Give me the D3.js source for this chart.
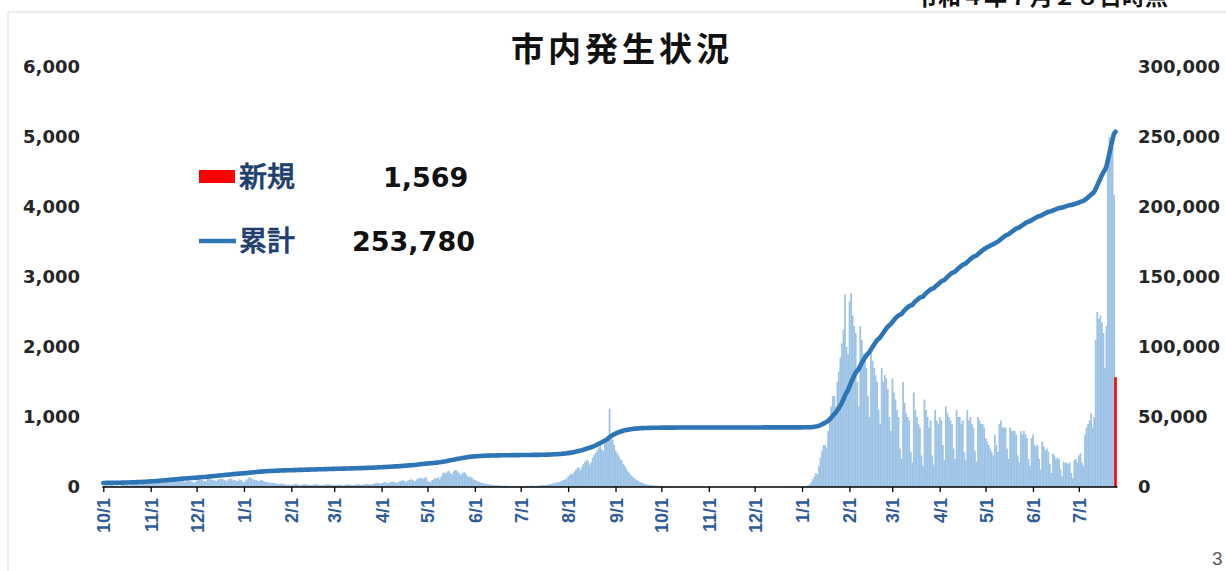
<!DOCTYPE html>
<html lang="ja">
<head>
<meta charset="utf-8">
<title>市内発生状況</title>
<script src="https://cdn.jsdelivr.net/npm/d3@7"></script>
<style>
  html, body { margin: 0; padding: 0; background: #fff; }
  svg { display: block; }
  .y-axis text { font: bold 18px "DejaVu Sans", Verdana, sans-serif; fill: #262626; }
  .x-axis text { font: bold 18px "Liberation Sans", Arial, sans-serif; fill: #2e5c99; }
  .x-axis path, .x-axis line { stroke: #000; stroke-width: 1.3; }
  .title { font: bold 33px "Noto Sans CJK JP", sans-serif; fill: #111; letter-spacing: 4px; }
  .as-of { font: bold 23px "Noto Sans CJK JP", sans-serif; fill: #111; }
  .legend-name { font: 500 28px "Noto Sans CJK JP", sans-serif; fill: #1f3f6e; stroke: #1f3f6e; stroke-width: 0.6; }
  .legend-value { font: bold 27px "DejaVu Sans", Verdana, sans-serif; fill: #111; }
  .page-no { font: 19px "Liberation Sans", Arial, sans-serif; fill: #595959; }
</style>
</head>
<body>
<svg id="chart" width="1226" height="571"></svg>
<script>
// daily new cases, one array per month, first day 2020-10-01
const startDate = new Date(2020, 9, 1);
const daily2020Oct = [12,18,20,15,10,22,25,20,18,24,15,12,30,28,26,35,30,20,25,38,40,45,48,52,35,50,62,70,75,80,70];
const daily2020Nov = [60,55,80,75,90,95,100,110,70,85,95,105,110,120,90,80,100,115,110,95,90,85,70,80,95,90,85,75,60,70];
const daily2020Dec = [90,110,120,100,95,85,80,115,120,110,105,100,90,85,110,115,120,110,100,95,90,115,120,110,95,100,90,85,110,100,80];
const daily2021Jan = [60,90,110,130,140,120,110,100,95,90,85,100,95,80,75,70,65,60,55,60,55,50,45,40,45,50,40,35,30,35,30];
const daily2021Feb = [30,35,40,45,38,30,25,35,40,42,38,30,28,25,32,38,40,35,30,28,25,30,35,38,40,36,32,30];
const daily2021Mar = [25,30,28,35,30,25,20,30,35,38,32,28,25,30,35,40,38,32,30,35,40,45,42,38,35,40,48,55,60,52,50];
const daily2021Apr = [55,60,70,65,50,60,75,80,70,65,55,70,85,90,95,80,70,85,100,110,105,95,85,110,120,130,125,115,130,140];
const daily2021May = [90,80,70,100,110,130,120,140,110,150,200,210,190,220,230,200,180,220,240,235,210,190,170,200,215,190,160,140,150,130,110];
const daily2021Jun = [100,90,80,75,60,55,50,45,40,35,38,30,28,25,22,25,20,18,15,20,18,15,12,15,14,10,12,15,10,12];
const daily2021Jul = [10,12,8,15,12,10,14,18,20,15,12,18,22,25,28,30,25,32,35,40,45,50,55,60,65,70,80,90,100,110,120];
const daily2021Aug = [150,170,190,180,220,250,270,280,240,290,330,360,390,370,320,350,420,460,490,520,560,600,540,510,640,690,660,1120,720,680,600];
const daily2021Sep = [520,480,450,400,380,330,300,260,220,200,170,150,130,110,95,85,70,60,55,45,40,35,30,28,25,22,20,18,15,12];
const daily2021Oct = [12,10,8,10,6,5,8,7,6,5,4,6,5,4,3,5,4,3,2,4,3,2,3,2,1,2,3,2,1,2,1];
const daily2021Nov = [1,2,1,0,2,1,1,3,2,1,0,1,2,1,1,2,1,0,1,2,1,1,2,3,1,1,2,1,1,2];
const daily2021Dec = [1,2,1,1,2,1,3,2,1,1,2,1,2,3,1,2,1,2,3,2,1,2,3,4,2,3,4,5,6,5,4];
const daily2022Jan = [5,8,10,15,25,40,70,110,150,200,180,300,420,520,600,600,560,800,1000,1150,1300,1300,1150,1500,1650,1850,2050,2250,2750,2000,1900];
const daily2022Feb = [2650,2770,2450,2300,2200,1500,1150,2300,2100,1900,1800,1700,1300,1000,1900,1800,1700,1600,1500,1100,900,1700,1500,1600,1550,1400,1000,800];
const daily2022Mar = [1550,1350,1250,1100,1000,550,400,1500,1200,1050,1000,950,500,350,1350,1100,1000,900,850,450,300,1250,1100,1000,850,950,450,320,1100,950,900];
const daily2022Apr = [1000,950,600,380,1150,1050,1000,950,900,550,400,1100,1000,1000,900,950,500,380,1100,950,1000,900,850,520,360,1000,950,900,900,850];
const daily2022May = [700,650,600,550,500,450,750,600,500,900,950,850,850,850,550,400,850,800,800,800,750,450,350,800,750,800,750,700,400,300,700];
const daily2022Jun = [750,600,580,600,400,250,650,580,520,550,500,330,200,480,450,400,420,400,250,150,360,340,350,330,350,200,130,380,400,350];
const daily2022Jul = [450,480,350,300,750,850,900,950,1050,850,1000,2100,2500,2400,2450,2350,2200,1700,2300,4600,5000,4900,4850,4170,1569];

const dailyByMonth = [
  daily2020Oct, daily2020Nov, daily2020Dec,
  daily2021Jan, daily2021Feb, daily2021Mar, daily2021Apr, daily2021May, daily2021Jun,
  daily2021Jul, daily2021Aug, daily2021Sep, daily2021Oct, daily2021Nov, daily2021Dec,
  daily2022Jan, daily2022Feb, daily2022Mar, daily2022Apr, daily2022May, daily2022Jun, daily2022Jul
];

// cumulative total shown in the legend
const totalToDate = 253780;

const leftTicks = [0, 1000, 2000, 3000, 4000, 5000, 6000];
const rightTicks = [0, 50000, 100000, 150000, 200000, 250000, 300000];
const titleText = "市内発生状況";
const asOfText = "令和４年７月２８日時点";
const legendNames = ["新規", "累計"];
const pageNumber = "3";

const colors = {
  bar: "#9dc3e6",
  latest: "#ff0000",
  line: "#2e75b6"
};

const svg = d3.select("#chart");

const daily = dailyByMonth.flat();
const dates = daily.map((_, i) => d3.timeDay.offset(startDate, i));
const startTotal = totalToDate - d3.sum(daily);
const cumulative = Array.from(d3.cumsum(daily), v => v + startTotal);
const last = daily.length - 1;

const x = d3.scaleTime()
  .domain([dates[0], dates[last]])
  .range([103.3, 1115.5]);
const yLeft = d3.scaleLinear().domain([0, 6000]).range([487, 67]);
const yRight = d3.scaleLinear().domain([0, 300000]).range([487, 67]);
const barWidth = x(dates[1]) - x(dates[0]);

// frame lines of the slide
svg.append("line")
  .attr("x1", 8).attr("x2", 1226).attr("y1", 12).attr("y2", 12)
  .attr("stroke", "#dadada").attr("stroke-width", 1.2);
svg.append("line")
  .attr("x1", 8).attr("x2", 8).attr("y1", 12).attr("y2", 571)
  .attr("stroke", "#e3e3e3").attr("stroke-width", 1.2);

// date stamp, cut off by the top edge as in the slide
svg.append("text")
  .attr("class", "as-of")
  .attr("x", 915).attr("y", 5)
  .text(asOfText);

svg.append("text")
  .attr("class", "title")
  .attr("x", 622).attr("y", 61)
  .attr("text-anchor", "middle")
  .text(titleText);

// daily bars (the latest day is drawn red afterwards)
svg.append("g")
  .selectAll("rect")
  .data(daily.slice(0, last))
  .join("rect")
  .attr("x", (d, i) => x(dates[i]) - barWidth / 2)
  .attr("y", d => yLeft(d))
  .attr("width", barWidth + 0.25)
  .attr("height", d => yLeft(0) - yLeft(d))
  .attr("fill", colors.bar);

// cumulative line
const line = d3.line()
  .x((d, i) => x(dates[i]))
  .y(d => yRight(d));

svg.append("path")
  .datum(cumulative)
  .attr("d", line)
  .attr("fill", "none")
  .attr("stroke", colors.line)
  .attr("stroke-width", 4.6)
  .attr("stroke-linejoin", "round")
  .attr("stroke-linecap", "round");

svg.append("rect")
  .attr("x", x(dates[last]) - 1.3)
  .attr("y", yLeft(daily[last]))
  .attr("width", 2.6)
  .attr("height", yLeft(0) - yLeft(daily[last]))
  .attr("fill", colors.latest);

// axes
const xAxis = d3.axisBottom(x)
  .ticks(d3.timeMonth.every(1))
  .tickFormat(d => `${d.getMonth() + 1}/${d.getDate()}`)
  .tickSize(5)
  .tickSizeOuter(0);

const xg = svg.append("g")
  .attr("class", "x-axis")
  .attr("transform", `translate(0,${yLeft(0)})`)
  .call(xAxis);
xg.select(".domain").attr("d", `M${x(dates[0]) - 1},0H${x(dates[last]) + 2}`);
xg.selectAll("text")
  .attr("transform", "rotate(-90)")
  .attr("text-anchor", "end")
  .attr("x", -11)
  .attr("y", 0)
  .attr("dy", "0.36em");

const leftAxis = svg.append("g")
  .attr("class", "y-axis")
  .attr("transform", "translate(103,0)")
  .call(d3.axisLeft(yLeft).tickValues(leftTicks).tickFormat(d3.format(",")).tickSize(0).tickPadding(23));
leftAxis.select(".domain").remove();

const rightAxis = svg.append("g")
  .attr("class", "y-axis")
  .attr("transform", "translate(1116,0)")
  .call(d3.axisRight(yRight).tickValues(rightTicks).tickFormat(d3.format(",")).tickSize(0).tickPadding(22));
rightAxis.select(".domain").remove();

// legend
const legend = svg.append("g");
legend.append("rect")
  .attr("x", 199).attr("y", 170).attr("width", 36).attr("height", 13)
  .attr("fill", colors.latest);
legend.append("line")
  .attr("x1", 199).attr("x2", 236).attr("y1", 241).attr("y2", 241)
  .attr("stroke", colors.line).attr("stroke-width", 4.6);

legend.selectAll(".legend-name")
  .data(legendNames)
  .join("text")
  .attr("class", "legend-name")
  .attr("x", 239)
  .attr("y", (d, i) => [187, 251][i])
  .text(d => d);

legend.append("text")
  .attr("class", "legend-value")
  .attr("x", 383).attr("y", 187)
  .text(d3.format(",")(daily[last]));
legend.append("text")
  .attr("class", "legend-value")
  .attr("x", 352).attr("y", 251)
  .text(d3.format(",")(cumulative[last]));

svg.append("text")
  .attr("class", "page-no")
  .attr("x", 1212).attr("y", 565)
  .text(pageNumber);
</script>
</body>
</html>
